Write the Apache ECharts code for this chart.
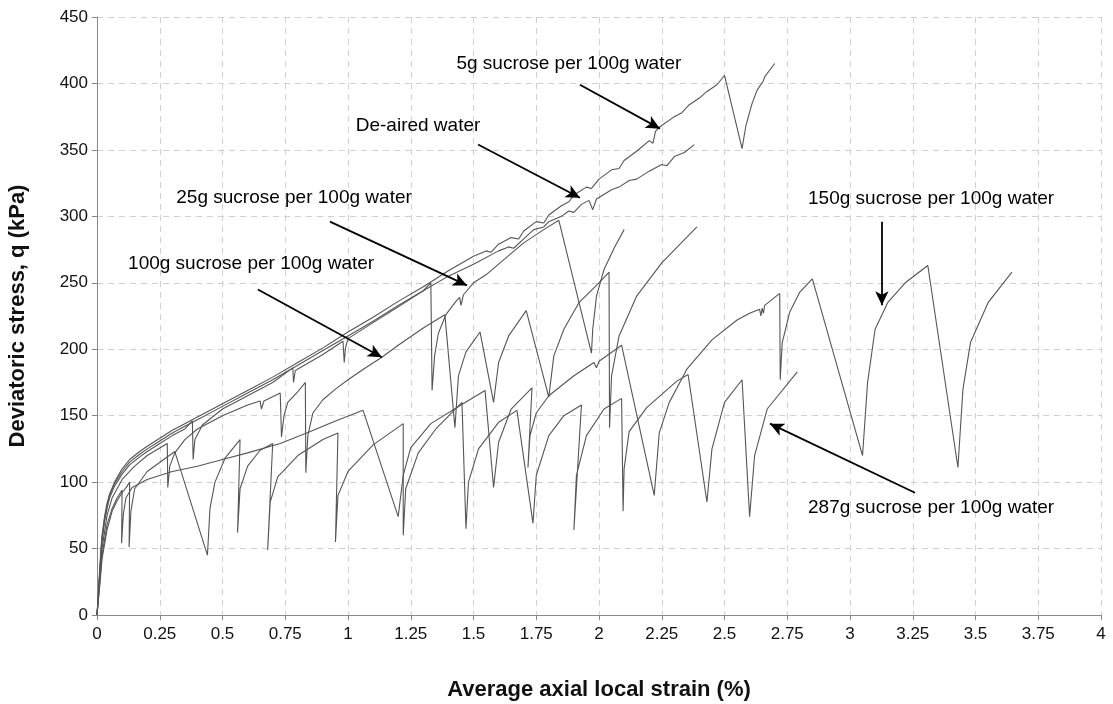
<!DOCTYPE html>
<html>
<head>
<meta charset="utf-8">
<script src="https://cdn.jsdelivr.net/npm/echarts@6/dist/echarts.min.js"></script>
<style>
  html, body { margin: 0; padding: 0; background: #fff; }
  #chart { width: 1113px; height: 704px; }
</style>
</head>
<body>
<div id="chart"></div>
<script>
// Axis ticks
const xTicks = { min: 0, max: 4, step: 0.25 };
const yTicks = { min: 0, max: 450, step: 50 };

// Strain (%) vs deviatoric stress (kPa), one array per pore fluid
const sucrose5 = [
  [0,0],[0.005,15],[0.01,32],[0.015,48],[0.02,60],[0.03,74],[0.04,84],[0.05,91],[0.07,100],
  [0.1,110],[0.13,117],[0.17,123],[0.2,127],[0.25,133],[0.3,139],[0.35,144],[0.4,149],
  [0.5,159],[0.6,169],[0.7,179],[0.8,190],[0.9,201],[1.0,213],[1.1,224],[1.2,236],[1.3,247],
  [1.4,259],[1.5,270],[1.55,274],[1.57,273],[1.6,279],[1.65,284],[1.68,283],[1.7,289],
  [1.75,296],[1.78,295],[1.8,301],[1.85,308],[1.88,311],[1.9,316],[1.95,322],[1.97,321],
  [2.0,328],[2.05,335],[2.08,336],[2.1,342],[2.15,349],[2.2,357],[2.215,355],[2.225,364],
  [2.24,367],[2.3,375],[2.33,378],[2.36,384],[2.4,389],[2.43,394],[2.47,399],[2.5,406],
  [2.57,351],[2.585,368],[2.61,385],[2.63,395],[2.655,402],[2.66,405],[2.7,415]
];
const deairedWater = [
  [0,0],[0.005,13],[0.01,30],[0.015,45],[0.02,58],[0.03,72],[0.04,82],[0.05,90],[0.07,99],
  [0.1,108],[0.13,115],[0.17,121],[0.2,125],[0.25,131],[0.3,137],[0.35,142],[0.4,147],
  [0.5,157],[0.6,167],[0.7,177],[0.8,188],[0.9,199],[1.0,210],[1.1,221],[1.2,233],[1.3,244],
  [1.4,255],[1.5,264],[1.6,274],[1.64,277],[1.66,276],[1.7,283],[1.74,290],[1.78,292],
  [1.8,296],[1.85,300],[1.88,304],[1.9,303],[1.93,309],[1.96,312],[1.975,305],[1.99,313],
  [2.05,320],[2.08,322],[2.12,327],[2.15,328],[2.2,334],[2.25,339],[2.27,338],[2.3,345],
  [2.34,348],[2.38,354]
];
const sucrose25 = [
  [0,0],[0.005,12],[0.01,28],[0.015,43],[0.02,55],[0.03,70],[0.04,80],[0.05,88],[0.07,97],
  [0.1,106],[0.13,113],[0.17,119],[0.2,123],[0.25,129],[0.3,135],[0.35,140],[0.38,146],
  [0.383,117],[0.39,132],[0.42,143],[0.5,155],[0.6,165],[0.7,175],[0.78,186],[0.783,175],
  [0.79,184],[0.9,196],[0.98,206],[0.985,190],[0.99,201],[1.0,208],[1.1,220],[1.2,232],
  [1.3,244],[1.33,250],[1.335,169],[1.345,195],[1.36,212],[1.39,226],[1.43,236],[1.445,239],
  [1.45,233],[1.46,241],[1.5,250],[1.55,256],[1.6,264],[1.7,280],[1.78,290],[1.84,297],
  [1.97,197],[1.975,215],[1.99,240],[2.02,260],[2.06,276],[2.1,290]
];
const sucrose100 = [
  [0,0],[0.01,28],[0.02,50],[0.04,75],[0.06,88],[0.1,102],[0.15,112],[0.2,120],[0.28,129],
  [0.282,96],[0.29,112],[0.31,122],[0.35,132],[0.4,140],[0.5,150],[0.6,158],[0.65,161],
  [0.655,155],[0.665,161],[0.73,167],[0.735,134],[0.745,150],[0.76,160],[0.8,168],[0.83,175],
  [0.832,107],[0.84,135],[0.86,152],[0.9,162],[0.95,170],[1.0,177],[1.07,186],[1.135,194],
  [1.2,203],[1.3,216],[1.386,226],[1.426,141],[1.44,180],[1.47,198],[1.526,213],[1.58,160],
  [1.6,190],[1.64,210],[1.71,229],[1.80,164],[1.82,195],[1.86,215],[1.92,235],[2.0,250],
  [2.04,258],[2.042,141],[2.05,180],[2.08,210],[2.15,240],[2.25,265],[2.39,292]
];
const sucrose150 = [
  [0,0],[0.01,22],[0.02,45],[0.04,68],[0.06,80],[0.08,88],[0.1,94],[0.098,54],[0.105,76],
  [0.115,88],[0.14,96],[0.2,102],[0.3,108],[0.4,112],[0.5,117],[0.6,122],[0.73,129],
  [0.85,138],[0.95,146],[1.06,154],[1.20,74],[1.22,105],[1.25,126],[1.33,144],[1.45,158],
  [1.546,169],[1.58,96],[1.6,130],[1.65,155],[1.733,171],[1.717,111],[1.725,135],[1.75,152],
  [1.8,165],[1.9,180],[1.98,190],[1.99,186],[2.0,191],[2.09,203],[2.22,90],[2.24,137],
  [2.28,160],[2.35,185],[2.45,207],[2.55,222],[2.6,227],[2.64,230],[2.645,225],[2.65,231],
  [2.655,227],[2.66,233],[2.72,242],[2.722,177],[2.73,205],[2.76,228],[2.8,243],[2.85,253],
  [3.05,120],[3.07,175],[3.1,215],[3.15,235],[3.22,250],[3.31,263],[3.43,111],[3.45,170],
  [3.48,205],[3.55,235],[3.645,258]
];
const sucrose287 = [
  [0,0],[0.01,20],[0.02,42],[0.04,64],[0.06,78],[0.08,86],[0.1,92],[0.12,97],[0.13,100],
  [0.128,51],[0.135,78],[0.15,95],[0.2,108],[0.31,123],[0.44,45],[0.45,80],[0.47,100],
  [0.51,118],[0.57,132],[0.56,62],[0.57,95],[0.6,112],[0.65,124],[0.7,129],[0.68,49],
  [0.69,85],[0.72,104],[0.8,120],[0.9,132],[0.96,137],[0.95,55],[0.96,90],[1.0,108],
  [1.1,128],[1.22,144],[1.22,60],[1.23,95],[1.28,122],[1.35,140],[1.454,160],[1.47,65],
  [1.48,100],[1.52,125],[1.6,145],[1.673,154],[1.737,69],[1.75,105],[1.8,135],[1.86,150],
  [1.93,158],[1.90,64],[1.91,105],[1.95,135],[2.02,155],[2.09,163],[2.096,78],[2.1,110],
  [2.12,138],[2.19,156],[2.31,176],[2.355,181],[2.43,85],[2.45,125],[2.5,160],[2.57,177],
  [2.60,74],[2.62,120],[2.67,155],[2.79,183]
];

// Annotation texts with their positions (strain, stress)
const noteTexts = [
  '5g sucrose per 100g water', 'De-aired water', '25g sucrose per 100g water',
  '100g sucrose per 100g water', '150g sucrose per 100g water', '287g sucrose per 100g water'
];
const notePos = [[1.88,415],[1.279,368],[0.785,314],[0.614,264],[3.323,313],[3.323,81]];
// Arrow tails and heads for each annotation
const arrowFrom = [[1.924,399],[1.518,354],[0.928,296],[0.641,245],[3.127,296],[3.259,92]];
const arrowTo   = [[2.243,366],[1.924,314],[1.474,248],[1.135,194],[3.127,233],[2.681,144]];

const curves = [sucrose5, deairedWater, sucrose25, sucrose100, sucrose150, sucrose287];
const curveNames = ['5g', 'De-aired', '25g', '100g', '150g', '287g'];

const fontFamily = 'Liberation Sans, Arial, Helvetica, sans-serif';
const chart = echarts.init(document.getElementById('chart'), null, { renderer: 'canvas' });

const dashed = { show: true, lineStyle: { color: '#d0d0d0', type: [6, 5], width: 1 } };
const tickFont = { fontFamily: fontFamily, fontSize: 17, color: '#111' };
const titleFont = { fontFamily: fontFamily, fontSize: 22, fontWeight: 'bold', color: '#111' };

const series = curves.map((d, i) => ({
  name: curveNames[i],
  type: 'line',
  data: d,
  showSymbol: false,
  symbol: 'none',
  lineStyle: { color: '#555', width: 1.1 },
  emphasis: { disabled: true },
  z: 2
}));

series.push({
  name: 'notes',
  type: 'scatter',
  data: notePos.map((p, i) => ({ value: p, label: { formatter: noteTexts[i] } })),
  symbolSize: 0,
  itemStyle: { opacity: 1 },
  label: {
    show: true, position: 'inside', color: '#000', opacity: 1,
    fontFamily: fontFamily, fontSize: 19
  },
  emphasis: { disabled: true },
  silent: true,
  z: 5,
  markLine: {
    silent: true,
    symbol: ['none', 'arrow'],
    symbolSize: [10, 14],
    lineStyle: { color: '#000', width: 1.8, type: 'solid', opacity: 1 },
    label: { show: false },
    emphasis: { disabled: true },
    data: arrowFrom.map((a, i) => [{ coord: a }, { coord: arrowTo[i] }])
  }
});

chart.setOption({
  animation: false,
  grid: { left: 97, right: 12, top: 17, bottom: 89, containLabel: false, outerBoundsMode: 'none' },
  xAxis: {
    type: 'value', min: xTicks.min, max: xTicks.max, interval: xTicks.step,
    name: 'Average axial local strain (%)', nameLocation: 'middle', nameGap: 64,
    nameTextStyle: titleFont,
    axisLine: { show: true, lineStyle: { color: '#888', width: 1 } },
    axisTick: { show: true, length: 5, lineStyle: { color: '#888' } },
    axisLabel: Object.assign({ margin: 11 }, tickFont),
    splitLine: dashed
  },
  yAxis: {
    type: 'value', min: yTicks.min, max: yTicks.max, interval: yTicks.step,
    name: 'Deviatoric stress, q (kPa)', nameLocation: 'middle', nameGap: 68,
    nameTextStyle: titleFont,
    axisLine: { show: true, lineStyle: { color: '#888', width: 1 } },
    axisTick: { show: true, length: 5, lineStyle: { color: '#888' } },
    axisLabel: Object.assign({ margin: 9 }, tickFont),
    splitLine: dashed
  },
  series: series
});
</script>
</body>
</html>
